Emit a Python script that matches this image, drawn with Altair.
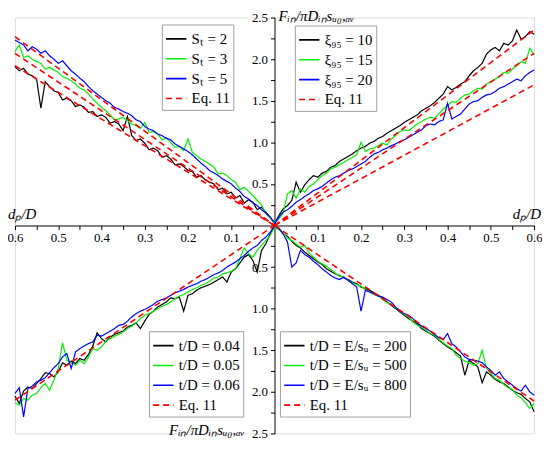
import altair as alt
import pandas as pd

# sample positions d_p/D (magnitudes)
DP = [0.00, 0.01, 0.02, 0.03, 0.04, 0.05, 0.06, 0.07, 0.08, 0.09,
      0.10, 0.11, 0.12, 0.13, 0.14, 0.15, 0.16, 0.17, 0.18, 0.19,
      0.20, 0.21, 0.22, 0.23, 0.24, 0.25, 0.26, 0.27, 0.28, 0.29,
      0.30, 0.31, 0.32, 0.33, 0.34, 0.35, 0.36, 0.37, 0.38, 0.39,
      0.40, 0.41, 0.42, 0.43, 0.44, 0.45, 0.46, 0.47, 0.48, 0.49,
      0.50, 0.51, 0.52, 0.53, 0.54, 0.55, 0.56, 0.57, 0.58, 0.59, 0.60]

# ---- top-left quadrant: S_t ----
TL_ST2 = [0.02, 0.10, 0.16, 0.22, 0.19, 0.28, 0.31, 0.27, 0.36, 0.33,
          0.40, 0.38, 0.45, 0.43, 0.50, 0.52, 0.55, 0.60, 0.58, 0.65,
          0.66, 0.71, 0.74, 0.73, 0.80, 0.84, 0.82, 0.90, 0.93, 0.91,
          0.99, 1.04, 1.02, 1.08, 1.31, 1.14, 1.22, 1.25, 1.23, 1.30,
          1.33, 1.31, 1.37, 1.36, 1.42, 1.45, 1.43, 1.50, 1.53, 1.51,
          1.60, 1.62, 1.67, 1.73, 1.41, 1.76, 1.80, 1.82, 1.89, 1.86, 1.91]
TL_ST3 = [0.03, 0.09, 0.14, 0.25, 0.30, 0.36, 0.41, 0.46, 0.43, 0.52,
          0.55, 0.60, 0.63, 0.62, 0.70, 0.74, 0.77, 0.80, 0.84, 0.88,
          1.04, 0.90, 0.95, 0.94, 1.00, 1.05, 1.03, 1.10, 1.13, 1.12,
          1.24, 1.17, 1.20, 1.22, 1.26, 1.30, 1.28, 1.27, 1.33, 1.38,
          1.42, 1.47, 1.52, 1.58, 1.63, 1.65, 1.70, 1.74, 1.77, 1.79,
          1.84, 1.87, 1.90, 1.88, 1.95, 1.97, 2.00, 2.04, 2.02, 2.17, 2.09]
TL_ST5 = [0.04, 0.10, 0.15, 0.19, 0.24, 0.27, 0.32, 0.35, 0.41, 0.45,
          0.50, 0.53, 0.56, 0.60, 0.63, 0.66, 0.71, 0.75, 0.80, 0.85,
          0.89, 0.92, 0.95, 0.98, 1.03, 1.05, 1.08, 1.10, 1.14, 1.16,
          1.19, 1.25, 1.27, 1.32, 1.35, 1.37, 1.40, 1.42, 1.47, 1.50,
          1.54, 1.58, 1.62, 1.67, 1.73, 1.77, 1.82, 1.86, 1.92, 1.98,
          1.95, 2.00, 2.04, 2.10, 2.07, 2.12, 2.15, 2.10, 2.17, 2.20, 2.23]
TL_EQ = [1.92, 2.07, 2.27]

# ---- top-right quadrant: xi_95 ----
TR_X10 = [0.02, 0.12, 0.20, 0.24, 0.30, 0.52, 0.40, 0.49, 0.55, 0.60,
          0.58, 0.63, 0.65, 0.70, 0.72, 0.77, 0.80, 0.83, 0.86, 0.90,
          0.93, 0.95, 0.99, 1.01, 1.05, 1.07, 1.11, 1.14, 1.17, 1.20,
          1.24, 1.27, 1.30, 1.33, 1.38, 1.41, 1.44, 1.48, 1.53, 1.58,
          1.67, 1.63, 1.66, 1.70, 1.73, 1.80, 1.86, 1.90, 1.95, 2.06,
          2.11, 2.14, 2.10, 2.19, 2.17, 2.22, 2.35, 2.24, 2.27, 2.33, 2.30]
TR_X15 = [0.03, 0.08, 0.15, 0.38, 0.42, 0.33, 0.44, 0.40, 0.47, 0.50,
          0.55, 0.60, 0.63, 0.68, 0.70, 0.73, 0.76, 0.79, 0.82, 0.85,
          1.00, 0.89, 0.92, 0.93, 0.96, 0.99, 0.97, 1.04, 1.08, 1.13,
          1.15, 1.14, 1.18, 1.22, 1.25, 1.28, 1.30, 1.29, 1.34, 1.40,
          1.44, 1.49, 1.48, 1.53, 1.57, 1.58, 1.62, 1.65, 1.64, 1.70,
          1.73, 1.76, 1.79, 1.84, 1.83, 1.88, 1.92, 1.97, 1.95, 2.13, 2.05]
TR_X20 = [0.02, 0.10, 0.16, 0.19, 0.23, 0.28, 0.31, 0.35, 0.38, 0.42,
          0.44, 0.47, 0.51, 0.55, 0.58, 0.60, 0.63, 0.66, 0.68, 0.71,
          0.74, 0.77, 0.82, 0.86, 0.88, 0.91, 0.93, 0.96, 0.98, 1.01,
          1.03, 1.06, 1.09, 1.12, 1.15, 1.20, 1.22, 1.21, 1.25, 1.27,
          1.47, 1.28, 1.31, 1.34, 1.40, 1.46, 1.49, 1.50, 1.54, 1.57,
          1.58, 1.61, 1.65, 1.67, 1.70, 1.73, 1.76, 1.74, 1.80, 1.84, 1.87]
TR_EQ = [2.35, 2.07, 1.69]

# ---- bottom-left quadrant: t/D ----
BL_T04 = [0.00, 0.10, 0.22, 0.30, 0.56, 0.42, 0.35, 0.38, 0.45, 0.52,
          0.56, 0.68, 0.62, 0.65, 0.68, 0.71, 0.73, 0.75, 0.78, 0.82,
          0.84, 1.03, 0.86, 0.88, 0.87, 0.92, 0.95, 0.98, 1.03, 1.07,
          1.15, 1.24, 1.17, 1.20, 1.22, 1.27, 1.29, 1.31, 1.34, 1.40,
          1.36, 1.29, 1.45, 1.55, 1.62, 1.60, 1.66, 1.63, 1.68, 1.65,
          1.76, 1.82, 1.78, 1.77, 1.84, 1.90, 1.96, 1.94, 1.99, 2.14, 2.05]
BL_T05 = [0.02, 0.12, 0.18, 0.24, 0.30, 0.38, 0.34, 0.27, 0.40, 0.52,
          0.55, 0.57, 0.58, 0.62, 0.63, 0.67, 0.70, 0.72, 0.75, 0.77,
          0.80, 0.83, 0.85, 0.88, 0.92, 0.95, 0.97, 1.00, 1.03, 1.06,
          1.08, 1.12, 1.17, 1.21, 1.24, 1.28, 1.31, 1.33, 1.36, 1.39,
          1.46, 1.50, 1.48, 1.58, 1.66, 1.62, 1.68, 1.65, 1.62, 1.41,
          1.72, 1.86, 1.98, 1.90, 1.95, 2.02, 2.04, 2.10, 2.08, 2.16, 2.13]
BL_T06 = [0.01, 0.08, 0.14, 0.18, 0.24, 0.27, 0.31, 0.36, 0.40, 0.44,
          0.47, 0.50, 0.54, 0.57, 0.59, 0.62, 0.65, 0.67, 0.70, 0.72,
          0.74, 0.77, 0.79, 0.81, 0.84, 0.87, 0.89, 0.91, 0.95, 0.98,
          1.01, 1.03, 1.06, 1.10, 1.15, 1.19, 1.20, 1.24, 1.27, 1.30,
          1.33, 1.32, 1.40, 1.42, 1.45, 1.48, 1.52, 1.72, 1.54, 1.58,
          1.66, 1.71, 1.77, 1.83, 1.86, 1.88, 1.93, 1.96, 2.30, 1.95, 2.02]
BL_EQ = [2.10]

# ---- bottom-right quadrant: E/s_u ----
BR_E200 = [0.00, 0.04, 0.10, 0.13, 0.19, 0.24, 0.27, 0.32, 0.36, 0.40,
           0.44, 0.47, 0.52, 0.55, 0.58, 0.60, 0.63, 0.65, 0.68, 0.70,
           0.74, 0.76, 0.78, 0.81, 0.84, 0.87, 0.92, 0.96, 1.00, 1.04,
           1.08, 1.12, 1.15, 1.18, 1.24, 1.27, 1.30, 1.33, 1.38, 1.42,
           1.46, 1.49, 1.53, 1.57, 1.80, 1.62, 1.66, 1.70, 1.89, 1.76,
           1.80, 1.85, 1.88, 1.90, 1.94, 1.98, 2.01, 2.03, 2.08, 2.12, 2.24]
BR_E500 = [0.02, 0.05, 0.09, 0.15, 0.18, 0.22, 0.26, 0.24, 0.33, 0.38,
           0.43, 0.46, 0.49, 0.53, 0.57, 0.61, 0.62, 0.66, 0.69, 0.71,
           0.73, 0.77, 0.80, 0.83, 0.85, 0.89, 0.93, 0.95, 0.99, 1.03,
           1.07, 1.10, 1.16, 1.20, 1.22, 1.26, 1.30, 1.32, 1.37, 1.41,
           1.45, 1.48, 1.56, 1.60, 1.63, 1.65, 1.68, 1.66, 1.50, 1.72,
           1.78, 1.84, 1.86, 1.91, 1.95, 1.97, 2.04, 2.07, 2.13, 2.20, 2.14]
BR_E800 = [0.01, 0.03, 0.10, 0.20, 0.50, 0.45, 0.30, 0.35, 0.38, 0.43,
           0.47, 0.52, 0.56, 0.60, 0.63, 0.65, 0.62, 0.66, 0.70, 0.74,
           1.03, 0.78, 0.80, 0.82, 0.85, 0.86, 0.89, 0.92, 0.98, 1.03,
           1.06, 1.08, 1.12, 1.17, 1.21, 1.24, 1.27, 1.31, 1.35, 1.37,
           1.30, 1.42, 1.46, 1.52, 1.58, 1.61, 1.62, 1.63, 1.65, 1.70,
           1.74, 1.80, 1.76, 1.84, 1.88, 1.92, 1.96, 1.99, 1.92, 2.00, 2.04]
BR_EQ = [2.11]

EQ_DP = [0.0, 0.6]
EQ_START = 0.0

TL_LABELS = ["Sₜ = 2", "Sₜ = 3", "Sₜ = 5"]
TR_LABELS = ["ξ₉₅ = 10", "ξ₉₅ = 15", "ξ₉₅ = 20"]
BL_LABELS = ["t/D = 0.04", "t/D = 0.05", "t/D = 0.06"]
BR_LABELS = ["t/D = E/sᵤ = 200", "t/D = E/sᵤ = 500", "t/D = E/sᵤ = 800"]
EQ_LABEL = "Eq. 11"

X_TICKS = [-0.6, -0.55, -0.5, -0.45, -0.4, -0.35, -0.3, -0.25, -0.2, -0.15, -0.1, -0.05,
           0.05, 0.1, 0.15, 0.2, 0.25, 0.3, 0.35, 0.4, 0.45, 0.5, 0.55, 0.6]
Y_TICKS = [-2.5, -2.25, -2.0, -1.75, -1.5, -1.25, -1.0, -0.75, -0.5, -0.25,
           0.25, 0.5, 0.75, 1.0, 1.25, 1.5, 1.75, 2.0, 2.25, 2.5]

X_TITLE = "dₚ/D"
Y_TITLE = "Fᵢₙ/πDᵢₙsᵤ₀,ₐᵥ"

COLORS = ["#000000", "#00ee00", "#0000ff", "#ff0000"]
DASHES = [[1, 0], [1, 0], [1, 0], [6, 4]]
FONT = "Liberation Serif, Times New Roman, serif"
W, H = 523, 419

x_enc = alt.X("dp:Q", scale=alt.Scale(domain=[-0.6, 0.6], nice=False, zero=False),
              axis=alt.Axis(values=X_TICKS, orient="bottom", offset=-H / 2, grid=False,
                            labelExpr="abs(datum.value*10 - round(datum.value*10)) < 0.001 ? format(abs(datum.value), '.1f') : ''",
                            labelFlush=False, labelOverlap=False, labelFont=FONT, labelFontSize=13,
                            labelColor="black", domainColor="black", tickColor="black",
                            tickSize=4, labelPadding=2, title=None))
y_enc = alt.Y("F:Q", scale=alt.Scale(domain=[-2.5, 2.5], nice=False, zero=False),
              axis=alt.Axis(values=Y_TICKS, orient="left", offset=-W / 2, grid=False,
                            labelExpr="abs(datum.value*2 - round(datum.value*2)) < 0.001 ? format(abs(datum.value), '.1f') : ''",
                            labelFlush=False, labelOverlap=False, labelFont=FONT, labelFontSize=13,
                            labelColor="black", domainColor="black", tickColor="black",
                            tickSize=4, labelPadding=3, title=None))


def quadrant(series_list, labels, eq_vals, sx, sy, lx, ly):
    rows = []
    for lab, vals in zip(labels, series_list):
        for d, v in zip(DP, vals):
            rows.append({"dp": sx * d, "F": sy * v, "series": lab, "line": lab})
    eq_rows = []
    for k, v in enumerate(eq_vals):
        for d, f in zip(EQ_DP, [EQ_START, v]):
            eq_rows.append({"dp": sx * d, "F": sy * f, "series": EQ_LABEL, "line": "eq%d" % k})
    domain = labels + [EQ_LABEL]
    leg = alt.Legend(title=None, orient="none", legendX=lx, legendY=ly,
                     symbolType="stroke", symbolSize=420, symbolStrokeWidth=1.6,
                     labelFont=FONT, labelFontSize=15, labelColor="black",
                     strokeColor="#a0a0a0", fillColor="white", padding=3,
                     rowPadding=0, labelOffset=4)
    color = alt.Color("series:N", scale=alt.Scale(domain=domain, range=COLORS), legend=leg)
    dash = alt.StrokeDash("series:N", scale=alt.Scale(domain=domain, range=DASHES), legend=leg)
    data_layer = alt.Chart(pd.DataFrame(rows)).mark_line(strokeWidth=1.2).encode(
        x=x_enc, y=y_enc, color=color, strokeDash=dash, detail="line:N")
    eq_layer = alt.Chart(pd.DataFrame(eq_rows)).mark_line(strokeWidth=1.6).encode(
        x=x_enc, y=y_enc, color=color, strokeDash=dash, detail="line:N")
    return alt.layer(data_layer, eq_layer)


q_tl = quadrant([TL_ST2, TL_ST3, TL_ST5], TL_LABELS, TL_EQ, -1, 1, 148, 7)
q_tr = quadrant([TR_X10, TR_X15, TR_X20], TR_LABELS, TR_EQ, 1, 1, 282, 8)
q_bl = quadrant([BL_T04, BL_T05, BL_T06], BL_LABELS, BL_EQ, -1, -1, 135, 316)
q_br = quadrant([BR_E200, BR_E500, BR_E800], BR_LABELS, BR_EQ, 1, -1, 267, 316)


def title_text(xv, yv, text, align, baseline, dx, dy):
    return alt.Chart(pd.DataFrame({"dp": [xv], "F": [yv], "t": [text]})).mark_text(
        align=align, baseline=baseline, dx=dx, dy=dy, font=FONT, fontSize=15,
        fontStyle="italic", color="black"
    ).encode(x=x_enc, y=y_enc, text="t:N")


t1 = title_text(-0.6, 0.0, X_TITLE, "left", "bottom", -7, -4)
t2 = title_text(0.6, 0.0, X_TITLE, "right", "bottom", 7, -4)
t3 = title_text(0.0, 2.5, Y_TITLE, "left", "middle", 4, -2)
t4 = title_text(0.0, -2.5, Y_TITLE, "right", "middle", -30, -3)

chart = alt.layer(q_tl, q_tr, q_bl, q_br, t1, t2, t3, t4).resolve_scale(
    color="independent", strokeDash="independent"
).properties(
    width=W, height=H,
    autosize=alt.AutoSizeParams(type="none"),
    padding={"left": 7, "top": 8, "right": 8, "bottom": 6},
).configure_view(strokeWidth=0).configure(font=FONT).configure_axis(
    labelFont=FONT, labelFontSize=13
)

chart.save("out.html", embed_options={"renderer": "svg", "actions": False})
